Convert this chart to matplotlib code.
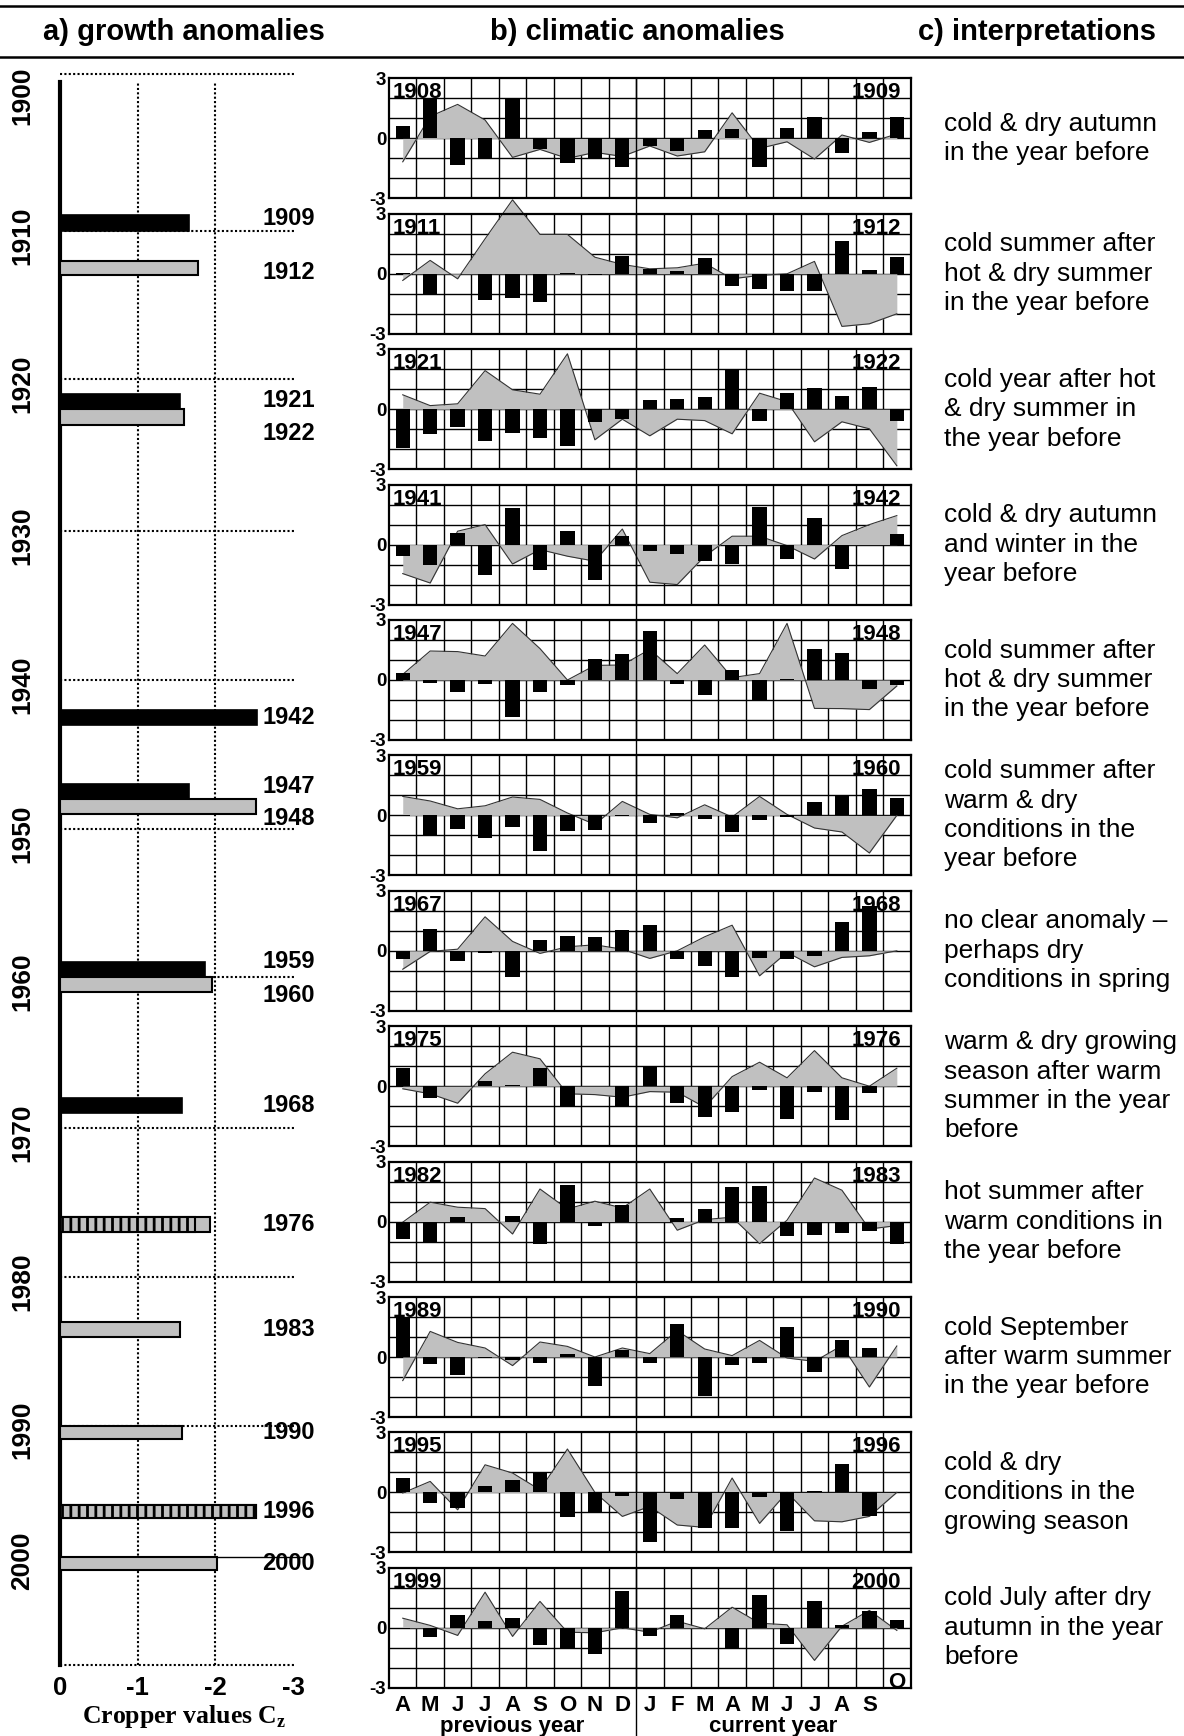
import numpy as np
import matplotlib
matplotlib.use("Agg")
import matplotlib.pyplot as plt
from matplotlib.lines import Line2D

plt.rcParams["font.family"] = ["Liberation Sans", "DejaVu Sans"]
plt.rcParams["axes.unicode_minus"] = False
plt.rcParams["hatch.linewidth"] = 2.0
plt.rcParams["mathtext.fontset"] = "custom"
plt.rcParams["mathtext.rm"] = "Liberation Serif:bold"

W, H = 1184, 1736

# ---------------- a) growth anomalies ----------------
anomaly_years = [1909, 1912, 1921, 1922, 1942, 1947, 1948, 1959, 1960,
                 1968, 1976, 1983, 1990, 1996, 2000]
cropper_values = [-1.66, -1.78, -1.54, -1.60, -2.54, -1.66, -2.53, -1.87, -1.96,
                  -1.57, -1.93, -1.54, -1.57, -2.53, -2.02]
bar_kind = ["black", "grey", "black", "grey", "black", "black", "grey", "black", "grey",
            "black", "striped", "grey", "grey", "striped", "grey"]
striped_part = {1976: -1.74, 1996: -2.53}
label_shift = [-0.3, 0.3, -0.1, 1.1, 0, -0.37, 0.8, -0.55, 0.75, 0, 0, 0, 0, 0, 0]

decades = [1900, 1910, 1920, 1930, 1940, 1950, 1960, 1970, 1980, 1990, 2000]
# the year axis of the original is not quite linear, decade lines sit here (px from top)
decade_px = [74, 231, 379, 531, 680, 829, 977, 1128, 1277, 1426, 1557]

# ---------------- b) climatic anomalies ----------------
panel_years = [(1908, 1909), (1911, 1912), (1921, 1922), (1941, 1942), (1947, 1948),
               (1959, 1960), (1967, 1968), (1975, 1976), (1982, 1983), (1989, 1990),
               (1995, 1996), (1999, 2000)]
months_prev = ["A", "M", "J", "J", "A", "S", "O", "N", "D"]
months_curr = ["J", "F", "M", "A", "M", "J", "J", "A", "S"]

bars_1909 = [0.62, 2.0, -1.33, -1.05, 2.0, -0.55, -1.25, -1.0, -1.42, -0.38, -0.62, 0.42, 0.47, -1.42, 0.5, 1.05, -0.75, 0.33, 1.05]
area_1909 = [-1.17, 1.1, 1.7, 0.92, -0.95, -0.55, -1.0, -0.7, -0.9, -0.38, -0.88, -0.67, 1.28, -0.5, -0.17, -1.03, 0.17, -0.2, 0.22]
bars_1912 = [0.03, -1.0, 0.0, -1.33, -1.22, -1.42, 0.05, -0.08, 0.87, 0.25, 0.13, 0.78, -0.6, -0.75, -0.88, -0.88, 1.62, 0.17, 0.82]
area_1912 = [-0.33, 0.67, -0.25, 1.75, 3.7, 1.97, 1.97, 0.83, 0.47, 0.25, 0.3, 0.53, -0.25, -0.08, 0.0, 0.62, -2.63, -2.5, -2.0]
bars_1922 = [-1.95, -1.23, -0.88, -1.57, -1.17, -1.45, -1.82, -0.62, -0.5, 0.47, 0.52, 0.63, 2.03, -0.57, 0.8, 1.05, 0.68, 1.12, -0.57]
area_1922 = [0.72, 0.18, 0.27, 1.93, 0.97, 0.75, 2.77, -1.53, -0.5, -1.33, -0.5, -0.57, -1.23, 0.8, 0.38, -1.63, -0.63, -0.98, -2.83]
bars_1942 = [-0.55, -1.0, 0.58, -1.5, 1.83, -1.28, 0.67, -1.78, 0.42, -0.33, -0.45, -0.83, -0.95, 1.87, -0.72, 1.33, -1.22, -0.03, 0.53]
area_1942 = [-1.45, -1.92, 0.67, 1.0, -0.97, -0.25, -0.58, -0.83, 0.78, -1.88, -2.0, -0.58, 0.42, 0.42, -0.05, -0.72, 0.45, 1.0, 1.45]
bars_1948 = [0.33, -0.15, -0.6, -0.18, -1.85, -0.6, -0.25, 1.03, 1.32, 2.45, -0.22, -0.75, 0.48, -1.05, 0.05, 1.53, 1.33, -0.47, -0.25]
area_1948 = [0.28, 1.45, 1.42, 1.2, 2.83, 1.57, 0.0, 0.73, 0.75, 1.53, 0.32, 1.75, 0.12, 0.32, 2.83, -1.42, -1.43, -1.48, -0.3]
bars_1960 = [-0.03, -0.97, -0.7, -1.13, -0.6, -1.78, -0.8, -0.75, -0.03, -0.38, 0.13, -0.18, -0.83, -0.22, -0.08, 0.65, 1.0, 1.32, 0.85]
area_1960 = [0.95, 0.72, 0.33, 0.48, 0.92, 0.8, 0.12, -0.45, 0.7, 0.05, -0.12, 0.53, -0.08, 0.95, 0.05, -0.63, -0.83, -1.88, 0.0]
bars_1968 = [-0.42, 1.08, -0.53, -0.1, -1.33, 0.53, 0.72, 0.67, 1.05, 1.3, -0.43, -0.75, -1.33, -0.37, -0.43, -0.27, 1.42, 2.22, 0.0]
area_1968 = [-0.92, -0.03, 0.08, 1.7, 0.47, -0.13, 0.2, 0.3, 0.08, -0.38, 0.0, 0.7, 1.28, -1.25, -0.08, -0.8, -0.33, -0.25, 0.0]
bars_1976 = [0.9, -0.58, 0.0, 0.25, 0.08, 0.9, -0.97, 0.0, -0.97, 1.03, -0.83, -1.52, -1.27, -0.17, -1.63, -0.27, -1.67, -0.33, 0.0]
area_1976 = [-0.13, -0.38, -0.85, 0.62, 1.7, 1.37, -0.38, -0.42, -0.55, -0.27, -0.3, -1.05, 0.48, 1.2, 0.42, 1.78, 0.42, 0.0, 0.9]
bars_1983 = [-0.87, -1.07, 0.22, -0.03, 0.27, -1.1, 1.82, -0.2, 0.82, -0.03, 0.17, 0.65, 1.73, 1.8, -0.7, -0.65, -0.57, -0.45, -1.1]
area_1983 = [-0.03, 0.97, 0.72, 0.65, -0.62, 1.63, 0.63, 1.02, 0.68, 1.63, -0.43, 0.1, 0.22, -1.1, 0.07, 2.18, 1.57, -0.37, -0.2]
bars_1990 = [2.0, -0.35, -0.88, -0.05, -0.13, -0.3, 0.17, -1.47, 0.33, -0.3, 1.65, -1.97, -0.42, -0.3, 1.5, -0.77, 0.85, 0.45, 0.0]
area_1990 = [-1.18, 1.28, 0.73, 0.45, -0.43, 0.75, 0.53, 0.0, 0.45, 0.17, 1.32, 0.4, 0.07, 0.83, -0.05, -0.22, 0.57, -1.5, 0.55]
bars_1996 = [0.7, -0.53, -0.77, 0.3, 0.63, 1.0, -1.23, -1.0, -0.2, -2.5, -0.33, -1.8, -1.78, -0.22, -1.92, 0.05, 1.42, -1.18, 0.0]
area_1996 = [-0.03, 0.55, -0.87, 1.38, 0.97, 0.13, 2.17, 0.0, -1.2, -0.7, -1.63, -1.75, 0.72, -1.55, 0.0, -1.42, -1.47, -1.2, 0.0]
bars_2000 = [-0.05, -0.47, 0.65, 0.32, 0.5, -0.88, -1.05, -1.3, 1.82, -0.43, 0.65, 0.0, -1.02, 1.62, -0.8, 1.32, 0.15, 0.82, 0.37]
area_2000 = [0.48, 0.12, -0.38, 1.78, -0.43, 1.32, -0.22, -0.25, 0.0, -0.22, 0.33, -0.05, 1.03, 0.23, 0.15, -1.63, 0.08, 0.87, -0.13]

panel_bars = [bars_1909, bars_1912, bars_1922, bars_1942, bars_1948, bars_1960,
              bars_1968, bars_1976, bars_1983, bars_1990, bars_1996, bars_2000]
panel_area = [area_1909, area_1912, area_1922, area_1942, area_1948, area_1960,
              area_1968, area_1976, area_1983, area_1990, area_1996, area_2000]

# ---------------- c) interpretations ----------------
interpretations = [
    "cold & dry autumn\nin the year before",
    "cold summer after\nhot & dry summer\nin the year before",
    "cold year after hot\n& dry summer in\nthe year before",
    "cold & dry autumn\nand winter in the\nyear before",
    "cold summer after\nhot & dry summer\nin the year before",
    "cold summer after\nwarm & dry\nconditions in the\nyear before",
    "no clear anomaly \u2013\nperhaps dry\nconditions in spring",
    "warm & dry growing\nseason after warm\nsummer in the year\nbefore",
    "hot summer after\nwarm conditions in\nthe year before",
    "cold September\nafter warm summer\nin the year before",
    "cold & dry\nconditions in the\ngrowing season",
    "cold July after dry\nautumn in the year\nbefore",
]

GREY = "#c0c0c0"


def fx(px):
    return px / W


def fy(px):
    return 1 - px / H


fig = plt.figure(figsize=(W / 100, H / 100), dpi=100)

# header
fig.add_artist(Line2D([0, 1], [fy(5.5), fy(5.5)], color="black", lw=1.8))
fig.add_artist(Line2D([0, 1], [fy(57), fy(57)], color="black", lw=1.8))
for txt, xc in [("a) growth anomalies", 184), ("b) climatic anomalies", 637),
                ("c) interpretations", 1037)]:
    fig.text(fx(xc), fy(32), txt, ha="center", va="center", fontsize=21, fontweight="bold")

# ---------------- left panel ----------------
yrs_anchor = np.array([1800] + decades + [2010, 2100], dtype=float)
px_anchor = np.array([74 - 100 * 15.7] + decade_px + [1557 + 130, 1557 + 1300], dtype=float)


def year_fwd(y):
    return np.interp(y, yrs_anchor, px_anchor)


def year_inv(p):
    return np.interp(p, px_anchor, yrs_anchor)


ax = fig.add_axes([fx(60), fy(1665), fx(293) - fx(60), fy(74) - fy(1665)])
ax.set_yscale("function", functions=(year_fwd, year_inv))
y_bottom = float(year_inv(1665))
ax.set_ylim(y_bottom, 1900)
ax.set_xlim(0, -3)
for s in ["top", "right", "bottom"]:
    ax.spines[s].set_visible(False)
ax.spines["left"].set_linewidth(3)
ax.spines["left"].set_bounds(1900.5, y_bottom)
ax.set_yticks([])
ax.set_xticks([0, -1, -2, -3])
ax.set_xticklabels(["0", "-1", "-2", "-3"], fontsize=18.5, fontweight="bold")
ax.tick_params(axis="x", length=0, pad=8)

dot = (0, (1, 1.1))
ax.vlines([-1, -2], y_bottom, 1900.5, colors="black", lw=1.5, linestyles=[dot], zorder=1)
ax.hlines(decades[:-1], 0, -3.04, colors="black", lw=1.5, linestyles=[dot], zorder=1, clip_on=False)
ax.hlines([y_bottom], 0, -3.04, colors="black", lw=1.5, linestyles=[dot], zorder=1, clip_on=False)
ax.hlines([2000], 0, -3.13, colors="black", lw=1.0, zorder=1, clip_on=False)

for d in decades:
    yl = d + 1.4 if d == 1900 else d + 0.3
    ax.text(0.49, yl, str(d), rotation=90, ha="center", va="center",
            fontsize=19, fontweight="bold", clip_on=False)

for yr, val, kind, sh in zip(anomaly_years, cropper_values, bar_kind, label_shift):
    yc = yr + 0.5
    if kind == "black":
        ax.barh(yc, val, height=1.0, left=0, color="black", edgecolor="black", lw=1.2, zorder=3)
    else:
        ax.barh(yc, val, height=1.0, left=0, color=GREY, edgecolor="black", lw=1.5, zorder=3)
        if kind == "striped":
            ax.barh(yc, striped_part[yr], height=1.0, left=0, color=GREY, hatch="||",
                    edgecolor="black", lw=0, zorder=4)
            ax.barh(yc, striped_part[yr], height=1.0, left=0, fill=False,
                    edgecolor="black", lw=1.5, zorder=5)
    ax.text(-3.285, yc + sh, str(yr), ha="right", va="center", fontsize=17,
            fontweight="bold", clip_on=False)

fig.text(fx(184), fy(1717), r"Cropper values C$_\mathrm{z}$", ha="center", va="center",
         fontsize=18.5, fontweight="bold", family="Liberation Serif")

# ---------------- climate panels ----------------
panel_left, col_w, ncol = 389, 27.45, 19
panel_h, top0, step = 120, 78.4, 135.4
x = np.arange(ncol) + 0.5

for k, ((y1, y2), bars, area) in enumerate(zip(panel_years, panel_bars, panel_area)):
    top = top0 + k * step
    cax = fig.add_axes([fx(panel_left), fy(top + panel_h), col_w * ncol / W, panel_h / H])
    cax.set_xlim(0, ncol)
    cax.set_ylim(-3, 3)
    cax.vlines(np.arange(1, ncol), -3, 3, colors="black", lw=1.0, zorder=1)
    cax.hlines([-2, -1, 0, 1, 2], 0, ncol, colors="black", lw=1.0, zorder=1)
    cax.fill_between(x, area, 0, color=GREY, lw=0, zorder=2, clip_on=False)
    cax.plot(x, area, color="#333333", lw=0.8, zorder=2.5, clip_on=False)
    cax.bar(x, bars, width=0.52, color="black", zorder=3)
    for s in cax.spines.values():
        s.set_linewidth(1.6)
        s.set_zorder(5)
    cax.set_xticks([])
    cax.set_yticks([-3, 0, 3])
    cax.set_yticklabels(["-3", "0", "3"], fontsize=13.5, fontweight="bold")
    cax.tick_params(axis="y", length=0, pad=2)
    cax.text(0.15, 2.8, str(y1), ha="left", va="top", fontsize=16, fontweight="bold", zorder=6)
    cax.text(18.66, 2.8, str(y2), ha="right", va="top", fontsize=16, fontweight="bold", zorder=6)

    fig.text(fx(944), fy(top + panel_h / 2), interpretations[k], ha="left", va="center",
             fontsize=19, linespacing=1.28)

# month labels under last panel
for i, m in enumerate(months_prev + months_curr):
    cax.text(i + 0.5, -3.9, m, ha="center", va="center", fontsize=16,
             fontweight="bold", clip_on=False)
cax.text(18.5, -2.72, "O", ha="center", va="center", fontsize=16, fontweight="bold", zorder=6)
cax.text(4.5, -4.95, "previous year", ha="center", va="center", fontsize=16,
         fontweight="bold", clip_on=False)
cax.text(14.0, -4.95, "current year", ha="center", va="center", fontsize=16,
         fontweight="bold", clip_on=False)

# separator between previous and current year
sep_x = fx(panel_left + 9 * col_w)
fig.add_artist(Line2D([sep_x, sep_x], [fy(top0), 0], color="black", lw=1.0))

fig.savefig("out.png", dpi=100)
